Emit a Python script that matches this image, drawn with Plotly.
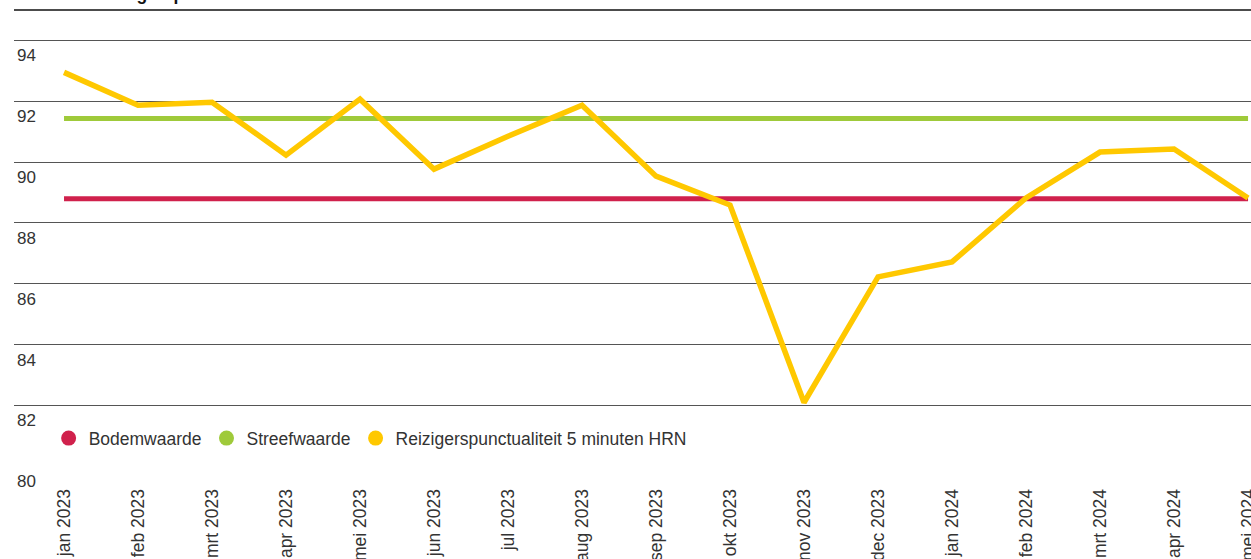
import plotly.graph_objects as go

months = ["jan 2023", "feb 2023", "mrt 2023", "apr 2023", "mei 2023", "jun 2023",
          "jul 2023", "aug 2023", "sep 2023", "okt 2023", "nov 2023", "dec 2023",
          "jan 2024", "feb 2024", "mrt 2024", "apr 2024", "mei 2024"]
punctualiteit = [92.95, 91.87, 91.97, 90.23, 92.07, 89.77, 90.85, 91.87, 89.54,
                 88.59, 82.1, 86.23, 86.72, 88.82, 90.33, 90.43, 88.82]
streefwaarde = [91.43] * len(months)
bodemwaarde = [88.8] * len(months)
y_ticks = [80, 82, 84, 86, 88, 90, 92, 94]
title_text = "Grafiek 1 Reizigerspunctualiteit HRN"

RED = "#d0214c"
GREEN = "#9fca3a"
YELLOW = "#ffc800"
TXT = "#333333"

xi = list(range(len(months)))

fig = go.Figure()
fig.add_trace(go.Scatter(x=xi, y=bodemwaarde, mode="lines", showlegend=False,
                         line=dict(color=RED, width=5)))
fig.add_trace(go.Scatter(x=xi, y=streefwaarde, mode="lines", showlegend=False,
                         line=dict(color=GREEN, width=5)))
fig.add_trace(go.Scatter(x=xi, y=punctualiteit, mode="lines", showlegend=False,
                         line=dict(color=YELLOW, width=5.5)))

for name, col in [("Bodemwaarde", RED), ("Streefwaarde", GREEN),
                  ("Reizigerspunctualiteit 5 minuten HRN", YELLOW)]:
    fig.add_trace(go.Scatter(x=[None], y=[None], mode="markers", name=name,
                             marker=dict(color=col, size=15, symbol="circle")))

fig.update_layout(
    width=1251, height=559,
    margin=dict(l=14, r=0, t=10, b=92),
    paper_bgcolor="white", plot_bgcolor="white",
    font=dict(family="Liberation Sans, Arial, sans-serif", color=TXT, size=17),
    legend=dict(orientation="h", x=0.028, y=0.063, xanchor="left", yanchor="middle",
                bgcolor="rgba(0,0,0,0)", font=dict(size=17.5, color=TXT),
                itemwidth=30, tracegroupgap=0),
    xaxis=dict(range=[-0.676, 16.04], tickmode="array", tickvals=xi, ticktext=months,
               tickangle=-90, showgrid=False, zeroline=False, showline=False,
               ticks="outside", ticklen=14, tickcolor="rgba(0,0,0,0)",
               ticklabeloverflow="allow", automargin=False,
               tickfont=dict(size=17.5, color=TXT)),
    yaxis=dict(range=[79.98, 95], tickvals=y_ticks, showgrid=True, gridcolor="#555555",
               gridwidth=1, zeroline=False, showline=False,
               ticklabelposition="inside", ticklabelshift=15,
               ticklabeloverflow="allow", automargin=False,
               tickfont=dict(size=17, color=TXT)),
)

fig.add_shape(type="line", xref="paper", yref="paper", x0=0, x1=1, y0=1, y1=1,
              line=dict(color="#111111", width=1.5))

# title sits above the page top in the reference: only its lowest pixels show
fig.add_annotation(text="<b>" + title_text + "</b>", xref="paper", yref="paper",
                   x=0, y=1, xanchor="left", yanchor="bottom", yshift=4,
                   showarrow=False, font=dict(size=17.5, color="#111111"))

fig.write_html("out.html", config={"displayModeBar": False},
               post_script="document.body.style.margin='0';"
                           "document.body.style.overflow='hidden';")
